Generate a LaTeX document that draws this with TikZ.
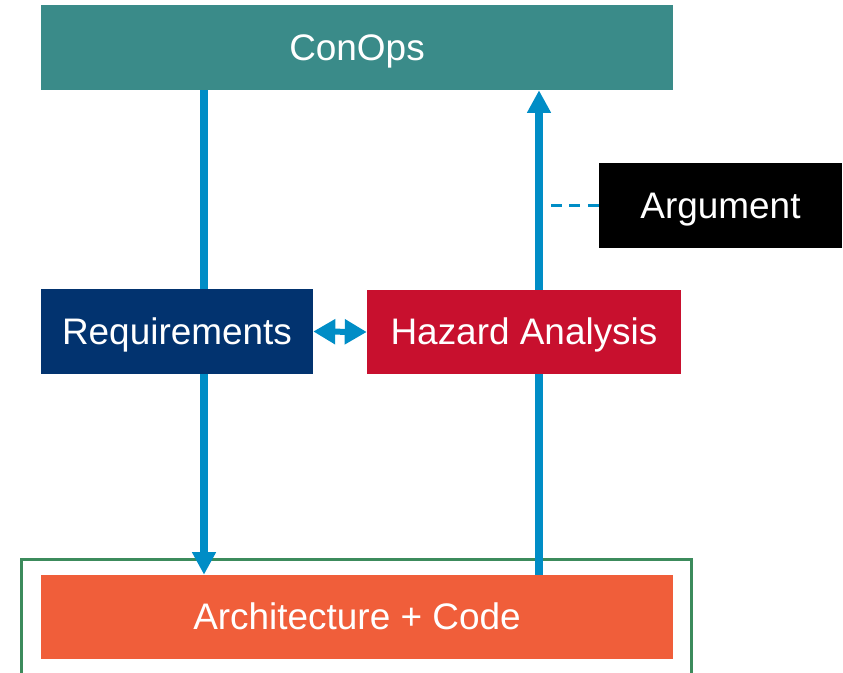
\documentclass[tikz,border=0pt]{standalone}
\usepackage{fontspec}
\setmainfont{Liberation Sans}
\usetikzlibrary{arrows.meta}

\definecolor{conopsteal}{HTML}{3A8B89}
\definecolor{reqblue}{HTML}{02336F}
\definecolor{hazred}{HTML}{C8102E}
\definecolor{archorange}{HTML}{F05E3A}
\definecolor{flowblue}{HTML}{008DC6}
\definecolor{boxgreen}{HTML}{3C8B5C}

\begin{document}
\begin{tikzpicture}[x=0.75pt, y=-0.75pt]
    \tikzset{
        block/.style={
            rectangle,
            inner sep=0pt,
            text=white,
            text height=25.07pt,
            text depth=5.87pt,
            font=\fontsize{27.7}{33}\selectfont,
        },
        flow/.style={
            draw=flowblue,
            line width=6pt,
        },
        flowarrow/.style={
            flow,
            -{Triangle[width=17pt, length=17pt]},
        },
    }
    \useasboundingbox (0,0) rectangle (843,673);

    % Vertices
    \node[block, fill=conopsteal, minimum width=474pt, minimum height=63.75pt] (conops) at (357,47.5) {ConOps};
    \node[block, fill=reqblue, minimum width=204pt, minimum height=63.75pt] (req) at (177,331.5) {Requirements};
    \node[block, fill=hazred, minimum width=235.5pt, minimum height=63pt] (haz) at (524,332) {Hazard Analysis};
    \node[block, fill=black, minimum width=182.25pt, minimum height=63.75pt] (arg) at (720.5,205.5) {Argument};
    \node[block, fill=archorange, minimum width=474pt, minimum height=63pt] (arch) at (357,617) {Architecture + Code};
    \draw[boxgreen, line width=2.25pt] (21.5,700) -- (21.5,559.5) -- (691.5,559.5) -- (691.5,700);

    \coordinate (lx) at (204,0);
    \coordinate (rx) at (539,0);
    \coordinate (dashend) at (551,205.5);

    % Arcs
    \draw[flow] (conops.south -| lx) -- (req.north -| lx);
    \draw[flowarrow] (req.south -| lx) -- (arch.north -| lx);
    \draw[flow] (arch.north -| rx) -- (haz.south -| rx);
    \draw[flowarrow] (haz.north -| rx) -- (conops.south -| rx);
    \draw[draw=flowblue, line width=4.5pt, {Triangle[width=18pt, length=16.5pt]}-{Triangle[width=18pt, length=16.5pt]}] (req.east) -- (haz.west);
    \draw[draw=flowblue, line width=2.25pt, dash pattern=on 8.25pt off 5.6pt] (dashend) -- (arg.west);
\end{tikzpicture}
\end{document}
